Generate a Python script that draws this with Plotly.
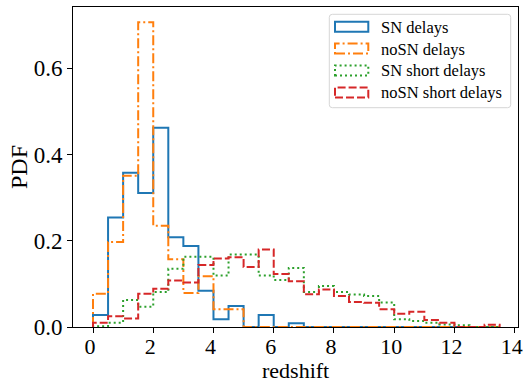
import plotly.graph_objects as go

# ---- data ----
bin_edges = [0.0, 0.5, 1.0, 1.5, 2.0, 2.5, 3.0, 3.5, 4.0, 4.5, 5.0, 5.5, 6.0, 6.5,
             7.0, 7.5, 8.0, 8.5, 9.0, 9.5, 10.0, 10.5, 11.0, 11.5, 12.0, 12.5, 13.0, 13.5]

sn_delays = [0.028, 0.254, 0.358, 0.311, 0.462, 0.208, 0.188, 0.084, 0.018, 0.049,
             0.0, 0.028, 0.0, 0.0085, 0.0, 0.0, 0.0, 0.0, 0.0, 0.0,
             0.0, 0.0, 0.0, 0.0, 0.0, 0.0, 0.0]
nosn_delays = [0.077, 0.197, 0.351, 0.707, 0.235, 0.157, 0.079, 0.118, 0.041, 0.041,
               0.0, 0.0, 0.0, 0.0, 0.0, 0.0, 0.0, 0.0, 0.0, 0.0,
               0.0, 0.0, 0.0, 0.0, 0.0, 0.0, 0.0]
sn_short = [0.002, 0.010, 0.0625, 0.047, 0.081, 0.135, 0.163, 0.163, 0.1195, 0.168,
            0.168, 0.1195, 0.109, 0.137, 0.081, 0.095, 0.081, 0.0756, 0.072, 0.057,
            0.018, 0.014, 0.010, 0.006, 0.004, 0.0, 0.0]
nosn_short = [0.010, 0.025, 0.020, 0.077, 0.089, 0.108, 0.103, 0.144, 0.159, 0.162,
              0.139, 0.180, 0.123, 0.106, 0.076, 0.087, 0.072, 0.058, 0.056, 0.041,
              0.031, 0.0355, 0.016, 0.010, 0.0, 0.0, 0.005]

labels = ["SN delays", "noSN delays", "SN short delays", "noSN short delays"]
series = [sn_delays, nosn_delays, sn_short, nosn_short]
colors = ["#1f77b4", "#ff7f0e", "#2ca02c", "#d62728"]
dashes = ["solid", "10px,3px,2px,3px", "2px,3px", "8px,3px"]
x_title, y_title = "redshift", "PDF"

FONT = "Liberation Serif"
W, H = 523, 383
L, R, T, B = 73, 5, 7, 56
PW, PH = W - L - R, H - T - B

fig = go.Figure()
for lab, vals, col, dsh in zip(labels, series, colors, dashes):
    xs = [bin_edges[0]] + list(bin_edges)
    ys = [0.0] + list(vals) + [0.0]
    fig.add_trace(go.Scatter(x=xs, y=ys, mode="lines", name=lab,
                             line=dict(color=col, width=2, dash=dsh, shape="hv"),
                             showlegend=False))

ymax = max(max(s) for s in series) * 1.05
xr = [-0.664, 14.11]

axis_common = dict(showline=True, linecolor="black", linewidth=1, mirror=True,
                   ticks="outside", ticklen=5, tickwidth=1, tickcolor="black",
                   showgrid=False, zeroline=False, automargin=False,
                   ticklabeloverflow="allow")

fig.update_xaxes(range=xr, tickvals=[0, 2, 4, 6, 8, 10, 12, 14],
                 ticklabelstandoff=-5, ticklabelshift=-3,
                 tickfont=dict(family=FONT, size=22, color="black"), **axis_common)
fig.update_yaxes(range=[0, ymax], tickvals=[0.0, 0.2, 0.4, 0.6], tickformat=".1f",
                 tickfont=dict(family=FONT, size=23, color="black"), **axis_common)

# ---- pixel helpers for decorations ----
def fx(px):
    return (px - L) / PW

def fy(py):
    return (H - B - py) / PH

annotations = [
    dict(xref="paper", yref="paper", x=fx(295), y=fy(370), xanchor="center", yanchor="middle",
         text=x_title, showarrow=False, font=dict(family=FONT, size=22, color="black")),
    dict(xref="paper", yref="paper", x=fx(19), y=fy(167), xanchor="center", yanchor="middle",
         text=y_title, textangle=-90, showarrow=False,
         font=dict(family=FONT, size=24, color="black")),
]

# ---- matplotlib-style legend ----
shapes = []
bx0, by0, bx1, by1 = 329.3, 14.3, 510.7, 107.7
rpx = 3.0
rx, ry = rpx / PW, rpx / PH
X0, X1, Y0, Y1 = fx(bx0), fx(bx1), fy(by1), fy(by0)
path = (f"M {X0+rx},{Y0} L {X1-rx},{Y0} Q {X1},{Y0} {X1},{Y0+ry} "
        f"L {X1},{Y1-ry} Q {X1},{Y1} {X1-rx},{Y1} L {X0+rx},{Y1} "
        f"Q {X0},{Y1} {X0},{Y1-ry} L {X0},{Y0+ry} Q {X0},{Y0} {X0+rx},{Y0} Z")
shapes.append(dict(type="path", xref="paper", yref="paper", path=path,
                   fillcolor="rgba(255,255,255,0.8)", line=dict(color="#d6d6d6", width=1),
                   layer="above"))
row0, dy = 26.7, 21.9
for i, (lab, col, dsh) in enumerate(zip(labels, colors, dashes)):
    cy = row0 + i * dy
    shapes.append(dict(type="rect", xref="paper", yref="paper",
                       x0=fx(335), x1=fx(368.3), y0=fy(cy + 5), y1=fy(cy - 5),
                       line=dict(color=col, width=2, dash=dsh),
                       fillcolor="rgba(0,0,0,0)", layer="above"))
    annotations.append(dict(xref="paper", yref="paper", x=fx(379), y=fy(cy + 0.5),
                            xanchor="left", yanchor="middle", text=lab, showarrow=False,
                            font=dict(family=FONT, size=16.5, color="black")))

fig.update_layout(width=W, height=H, margin=dict(l=L, r=R, t=T, b=B, autoexpand=False),
                  paper_bgcolor="white", plot_bgcolor="white",
                  shapes=shapes, annotations=annotations, showlegend=False)

fig.write_html("out.html")
